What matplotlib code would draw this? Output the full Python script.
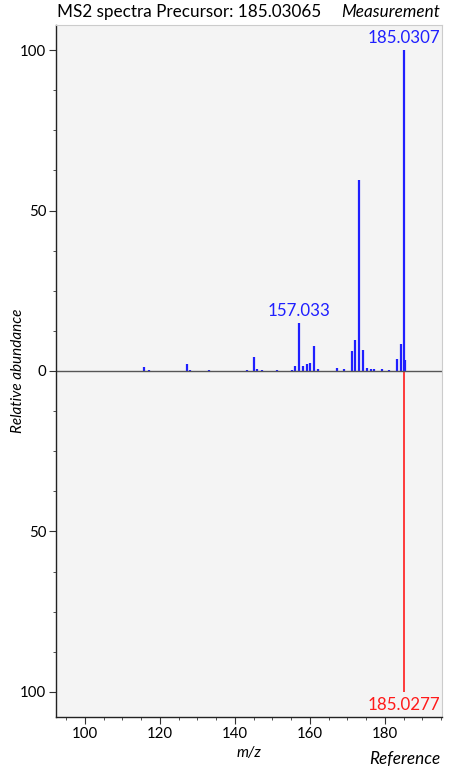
import matplotlib

matplotlib.use("Agg")

import matplotlib.pyplot as plt
from matplotlib.ticker import MultipleLocator, FuncFormatter

plt.rcParams["font.family"] = ["Lato", "DejaVu Sans"]

# Measured MS2 spectrum (m/z, relative abundance)
meas_mz = [
    101.8, 105.0, 109.1, 113.0, 115.8, 117.1, 119.0, 121.1, 123.0, 127.1,
    128.1, 131.0, 133.0, 137.1, 141.0, 143.1, 145.1, 146.0, 147.1, 151.1,
    155.1, 156.1, 157.033, 158.1, 159.1, 160.1, 161.1, 162.1, 167.1, 169.1,
    171.1, 172.1, 173.1, 174.1, 175.1, 176.2, 177.1, 179.1, 181.1, 183.1,
    184.2, 185.0307, 185.45,
]
meas_int = [
    0.1, 0.1, 0.1, 0.1, 1.1, 0.2, 0.1, 0.1, 0.1, 2.1,
    0.2, 0.1, 0.2, 0.1, 0.1, 0.2, 4.3, 0.5, 0.3, 0.2,
    0.3, 1.7, 14.9, 1.7, 2.1, 2.5, 7.9, 0.7, 0.8, 0.5,
    6.3, 9.7, 59.5, 6.5, 1.0, 0.5, 0.5, 0.6, 0.3, 3.7,
    8.5, 100.0, 3.4,
]

# Library reference spectrum
ref_mz = [185.0277]
ref_int = [100.0]

# Peaks that get an m/z annotation
meas_labels = ["157.033", "185.0307"]
ref_labels = ["185.0277"]

BLUE = "#1f1fff"
RED = "#ff1a1a"

fig = plt.figure(figsize=(4.51, 7.69), dpi=100)
ax = fig.add_axes([56 / 451, 52 / 769, 386 / 451, 692 / 769])
ax.set_facecolor("#f4f4f4")

ax.vlines(meas_mz, 0, meas_int, color=BLUE, lw=1.6)
ax.vlines(ref_mz, 0, [-v for v in ref_int], color=RED, lw=1.2)
ax.axhline(0, color="#555555", lw=1.0)

for lab in meas_labels:
    i = min(range(len(meas_mz)), key=lambda k: abs(meas_mz[k] - float(lab)))
    ax.text(meas_mz[i], meas_int[i] + 1.2, lab, color=BLUE, fontsize=12.2,
            ha="center", va="bottom")
for lab in ref_labels:
    i = min(range(len(ref_mz)), key=lambda k: abs(ref_mz[k] - float(lab)))
    ax.text(ref_mz[i], -ref_int[i] - 1.5, lab, color=RED, fontsize=12.2,
            ha="center", va="top")

ax.set_xlim(92.27, 195.2)
ax.set_ylim(-107.8, 107.8)

ax.xaxis.set_major_locator(MultipleLocator(20))
ax.xaxis.set_minor_locator(MultipleLocator(5))
ax.yaxis.set_major_locator(MultipleLocator(50))
ax.yaxis.set_minor_locator(MultipleLocator(12.5))
ax.yaxis.set_major_formatter(FuncFormatter(lambda v, p: f"{abs(v):g}"))

ax.tick_params(which="major", direction="out", length=5, width=0.8,
               labelsize=10.8, color="#333333", pad=2)
ax.tick_params(which="minor", direction="out", length=2.5, width=0.6,
               color="#333333")

for side in ("left", "bottom"):
    ax.spines[side].set_color("#222222")
    ax.spines[side].set_linewidth(1.0)
for side in ("top", "right"):
    ax.spines[side].set_color("#cccccc")
    ax.spines[side].set_linewidth(0.8)

ax.set_xlabel("m/z", style="italic", fontsize=11, labelpad=4)
ax.set_ylabel("Relative abundance", style="italic", fontsize=11)
ax.yaxis.set_label_coords(-0.08, 0.5)

fig.text(57 / 451, 1 - 12 / 769, "MS2 spectra Precursor: 185.03065",
         fontsize=12.3, ha="left", va="center")
fig.text(440 / 451, 1 - 12 / 769, "Measurement", style="italic",
         fontsize=12.3, ha="right", va="center")
fig.text(440 / 451, 1 - 759 / 769, "Reference", style="italic",
         fontsize=12.3, ha="right", va="center")

fig.savefig("out.png", dpi=100)
